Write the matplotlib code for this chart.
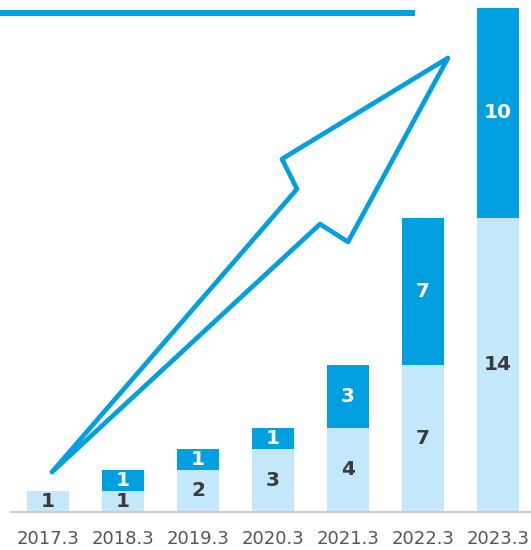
import matplotlib.pyplot as plt
from matplotlib.patches import Polygon
from matplotlib.lines import Line2D

years = ['2017.3', '2018.3', '2019.3', '2020.3', '2021.3', '2022.3', '2023.3']
base = [1, 1, 2, 3, 4, 7, 14]
extra = [0, 1, 1, 1, 3, 7, 10]

light = '#C4E8FB'
dark = '#009FE0'

fig = plt.figure(figsize=(5.31, 5.5), dpi=100)
ax = fig.add_axes([11 / 531, 38 / 550, 520 / 531, 512 / 550])

x = range(len(years))
ax.bar(x, base, width=0.56, color=light, zorder=2)
ax.bar(x, extra, width=0.56, bottom=base, color=dark, zorder=2)

for i in x:
    ax.text(i, base[i] / 2, str(base[i]), ha='center', va='center',
            fontsize=14.5, fontweight='bold', color='#3a3a3a', zorder=3)
    if extra[i]:
        ax.text(i, base[i] + extra[i] / 2, str(extra[i]), ha='center', va='center',
                fontsize=14.5, fontweight='bold', color='white', zorder=3)

# growth arrow outline
arrow = Polygon([(0.053, 1.9), (3.32, 15.38), (3.12, 16.81), (5.333, 21.62),
                 (4.0, 12.86), (3.627, 13.71)], closed=True,
                facecolor='white', edgecolor=dark, linewidth=3.4,
                joinstyle='round', zorder=4)
ax.add_patch(arrow)

ax.set_xlim(-0.493, 6.44)
ax.set_ylim(0, 24.38)
ax.set_xticks(list(x))
ax.set_xticklabels(years, fontsize=13, color='#555555')
ax.tick_params(axis='x', length=0, pad=13)
ax.set_yticks([])
for s in ['top', 'right', 'left']:
    ax.spines[s].set_visible(False)
ax.spines['bottom'].set_color('#cccccc')
ax.spines['bottom'].set_linewidth(1.5)

fig.add_artist(Line2D([0, 412 / 531], [1 - 13 / 550, 1 - 13 / 550],
                      transform=fig.transFigure, color=dark, linewidth=4.3))

fig.savefig('out.png', dpi=100)
